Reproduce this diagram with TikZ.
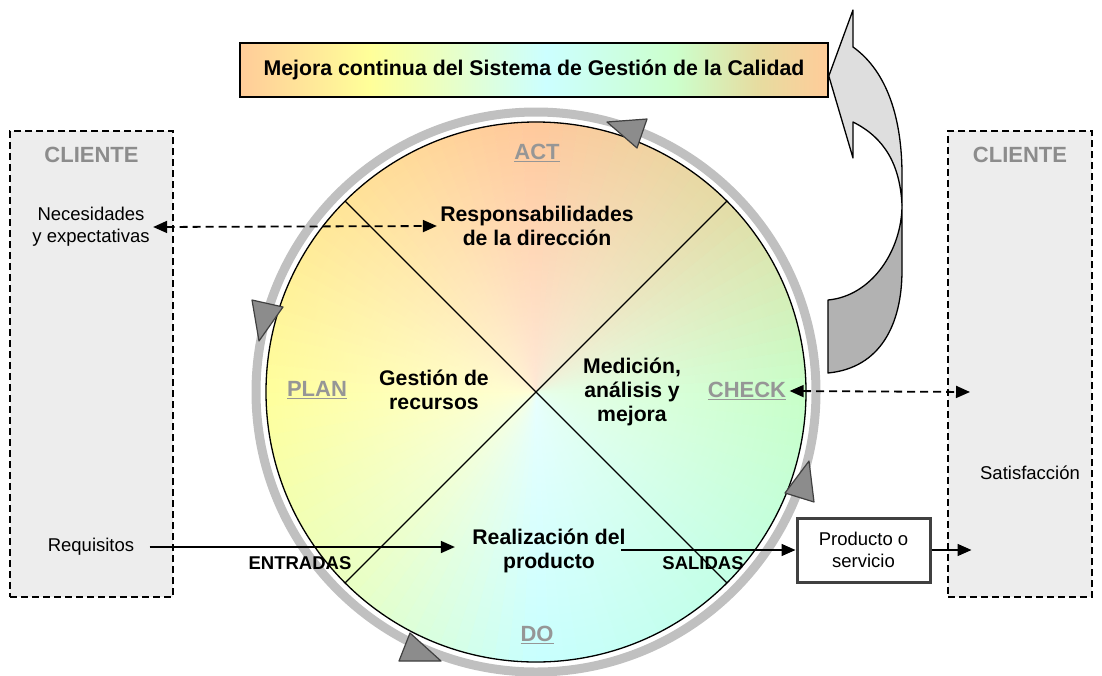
\documentclass[tikz,border=0pt]{standalone}
\usepackage{fontspec}
\setmainfont{Liberation Sans}
\usetikzlibrary{arrows.meta, positioning, fadings}

% wheel colours, every 45 degrees (clockwise from the right, y points down)
\definecolor{ca0}{HTML}{C8FFC8}
\definecolor{ca1}{HTML}{C4FFE6}
\definecolor{ca2}{HTML}{C8FFFF}
\definecolor{ca3}{HTML}{EAFFC2}
\definecolor{ca4}{HTML}{FFFF9C}
\definecolor{ca5}{HTML}{FFE498}
\definecolor{ca6}{HTML}{FFC89C}
\definecolor{ca7}{HTML}{E4DCA6}
\definecolor{ca8}{HTML}{C8FFC8}
\definecolor{boxorange}{HTML}{FFCC99}
\definecolor{boxyellow}{HTML}{FFFF99}
\definecolor{boxcyan}{HTML}{CCFFFF}
\definecolor{boxgreen}{HTML}{CCFFCC}
\definecolor{boxtan}{HTML}{E6DCA0}
\definecolor{ringgray}{HTML}{C0C0C0}
\definecolor{labelgray}{HTML}{969696}
\definecolor{clientfill}{HTML}{EDEDED}
\definecolor{markgray}{HTML}{8C8C8C}
\definecolor{markedge}{HTML}{404040}
\definecolor{arrowlight}{HTML}{DEDEDE}
\definecolor{arrowdark}{HTML}{B2B2B2}

\pgfdeclarehorizontalshading{rainbow}{100bp}{color(0bp)=(boxorange); color(25bp)=(boxorange);
  color(36bp)=(boxyellow); color(51bp)=(boxcyan); color(62bp)=(boxgreen);
  color(69bp)=(boxtan); color(75bp)=(boxorange); color(100bp)=(boxorange)}
\tikzfading[name=centreglow, inner color=transparent!0, outer color=transparent!100]

\begin{document}
\begin{tikzpicture}[
  x=1pt, y=-1pt,
  client/.style={draw, line width=1.8pt, dash pattern=on 7pt off 4pt, fill=clientfill,
                 minimum height=466pt, inner sep=0pt},
  phase/.style={font=\fontsize{22}{26}\selectfont\bfseries, text=labelgray},
  area/.style={align=center, font=\fontsize{21.2}{24}\selectfont\bfseries},
  plain/.style={align=center, font=\fontsize{18.5}{22}\selectfont},
  edge/.style={font=\fontsize{18.5}{22}\selectfont\bfseries},
  flow/.style={-{Triangle[length=14pt, width=12pt]}, line width=1.5pt},
  link/.style={{Triangle[length=14pt, width=12pt]}-{Triangle[length=14pt, width=12pt]},
               line width=1.8pt, dash pattern=on 8pt off 5pt},
  marker/.style={fill=markgray, draw=markedge, line width=1.2pt, line join=round}
]
\useasboundingbox (0,0) rectangle (1102,675);

% customer columns
\node[client, minimum width=163pt] (custL) at (91.5,364) {};
\node[client, minimum width=144pt] (custR) at (1020,364) {};
\node[phase, text=black!45, below=14pt of custL.north] (titleL) {CLIENTE};
\node[phase, text=black!45, below=14pt of custR.north] (titleR) {CLIENTE};

% the wheel
\coordinate (c) at (536,392);
\foreach \a in {0,3,...,357}{
  \pgfmathsetmacro{\m}{\a+1.5}
  \pgfmathtruncatemacro{\seg}{floor(\m/45)}
  \pgfmathtruncatemacro{\nxt}{\seg+1}
  \pgfmathtruncatemacro{\pct}{100-100*(\m-45*\seg)/45}
  \colorlet{wedge}{ca\seg!\pct!ca\nxt}
  \filldraw[fill=wedge, draw=wedge, line width=0.6pt]
    (c) -- ++(\a:270) arc[start angle=\a, end angle=\a+3, radius=270] -- cycle;
}
\fill[white, path fading=centreglow, fill opacity=0.6] (c) circle[radius=270];
\path (c) ++(-191,-191) coordinate (ul) (c) ++(191,191) coordinate (lr)
      (c) ++(191,-191) coordinate (ur) (c) ++(-191,191) coordinate (ll);
\draw[line width=1.3pt] (ul) -- (lr) (ur) -- (ll);
\draw[line width=1.3pt] (c) circle[radius=270];
\draw[ringgray, line width=9pt] (c) circle[radius=280];

% direction marks on the ring
\filldraw[marker] (607,122) -- (647,119) -- (637,148) -- cycle;
\filldraw[marker] (252,300) -- (283,307) -- (259,341) -- cycle;
\filldraw[marker] (410,633) -- (399,661) -- (441,661) -- cycle;
\filldraw[marker] (809,461) -- (785,493) -- (814,502) -- cycle;

% improvement loop
\node[draw, line width=1.6pt, shade, shading=rainbow, minimum width=588pt, minimum height=54pt,
      font=\fontsize{21.3}{24}\selectfont\bfseries] (kaizen) at (534,70)
      {Mejora continua del Sistema de Gestión de la Calidad};
\filldraw[fill=arrowdark, line width=1.3pt, line join=round]
  (902,205) .. controls (902,250) and (872,296) .. (828,300) -- (828,373)
  .. controls (880,368) and (902,325) .. (902,270) -- cycle;
\filldraw[fill=arrowlight, line width=1.3pt, line join=round]
  (902,205) .. controls (900,165) and (885,138) .. (853,122) -- (853,158)
  -- ([yshift=-6pt]kaizen.east) -- (853,10) -- (853,47)
  .. controls (888,72) and (902,120) .. (902,175) -- cycle;

% wheel labels
\node[phase] (act) at (537,153) {\underline{ACT}};
\node[phase] (plan) at (317,390) {\underline{PLAN}};
\node[phase] (check) at (747,391) {\underline{CHECK}};
\node[phase] (do) at (537,635) {\underline{DO}};
\node[area] (resp) at (537,226) {Responsabilidades\\de la dirección};
\node[area] (res) at (434,390) {Gestión de\\recursos};
\node[area] (med) at (632,392) {Medición,\\análisis y\\mejora};
\node[area] (real) at (549,551) {Realización del\\producto};
\node[edge] (inp) at (300,563) {ENTRADAS};
\node[edge] (outp) at (703,563) {SALIDAS};

% customer side
\node[plain] (needs) at (91,227) {Necesidades\\y expectativas};
\node[plain] (req) at (91,547) {Requisitos};
\node[plain] (sat) at (1030,473) {Satisfacción};
\node[draw=markedge, line width=3pt, plain, minimum width=133pt, minimum height=64pt]
  (prod) at (863.5,550) {Producto o\\servicio};
\coordinate (satIn) at ([xshift=40pt]prod.east);
\coordinate (chkIn) at (970,392);

\draw[link] (needs.east) -- (resp.west);
\draw[link] (check.east) -- (chkIn);
\draw[flow] ([xshift=12pt]req.east) -- ([xshift=-14pt]real.west |- req.east);
\draw[flow] ([xshift=-8pt]real.east |- prod.west) -- (prod.west);
\draw[flow] (prod.east) -- (satIn);
\end{tikzpicture}
\end{document}
